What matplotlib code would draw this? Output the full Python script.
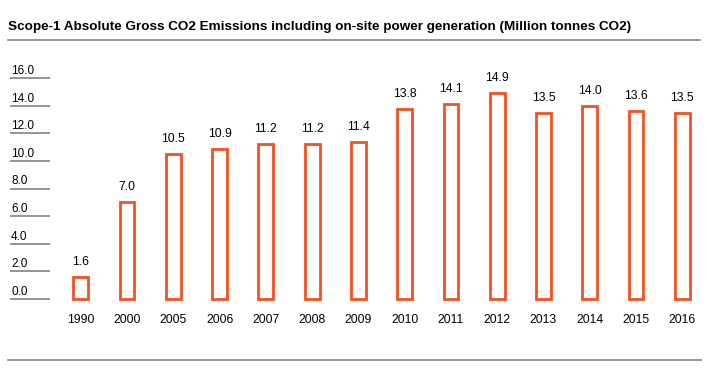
import matplotlib
matplotlib.use("Agg")
import matplotlib.pyplot as plt
from matplotlib.lines import Line2D

years = ["1990", "2000", "2005", "2006", "2007", "2008", "2009",
         "2010", "2011", "2012", "2013", "2014", "2015", "2016"]
emissions = [1.6, 7.0, 10.5, 10.9, 11.2, 11.2, 11.4,
             13.8, 14.1, 14.9, 13.5, 14.0, 13.6, 13.5]
ticks = [0, 2, 4, 6, 8, 10, 12, 14, 16]

orange = "#f4511e"
grey = "#8c8c8c"
plt.rcParams['font.family'] = ['Liberation Sans', 'DejaVu Sans']

W, H = 706, 392
fig = plt.figure(figsize=(W / 100, H / 100), dpi=100)
ax = fig.add_axes([0, 0, 1, 1])
ax.axis("off")

# pixel layout: bar i centre at 80.8 + 46.27*i, value v at 299 - 13.8*v (from top)
x0, dx = 80.8, 46.27
y0, dy = 299.0, 13.8
ax.set_xlim(-x0 / dx, (W - x0) / dx)
ax.set_ylim((y0 - H) / dy, y0 / dy)

xs = list(range(len(years)))
ax.bar(xs, emissions, width=0.32, facecolor="white", edgecolor=orange,
       linewidth=2.0)

for x, v in zip(xs, emissions):
    ax.text(x, v + 15 / dy, f"{v:.1f}", ha="center", va="center", fontsize=8.7)
    ax.text(x, -21 / dy, years[x], ha="center", va="center", fontsize=8.7)

# y "axis": labels sitting on short grey rules
lx0, lx1 = (10 - x0) / dx, (50 - x0) / dx
for t in ticks:
    ax.plot([lx0, lx1], [t, t], color=grey, lw=1.3, solid_capstyle="butt")
    ax.text((11 - x0) / dx, t + 1.2 / dy, f"{t:.1f}", ha="left", va="bottom",
            fontsize=8.5)

fig.text(8 / W, 1 - 27 / H,
         "Scope-1 Absolute Gross CO2 Emissions including on-site power generation (Million tonnes CO2)",
         ha="left", va="center", fontsize=9.7, fontweight="bold")
fig.add_artist(Line2D([8 / W, 700 / W], [1 - 40 / H, 1 - 40 / H], color=grey, lw=1.3))
fig.add_artist(Line2D([8 / W, 701 / W], [1 - 360 / H, 1 - 360 / H], color=grey, lw=1.3))

fig.savefig("out.png", dpi=100)
